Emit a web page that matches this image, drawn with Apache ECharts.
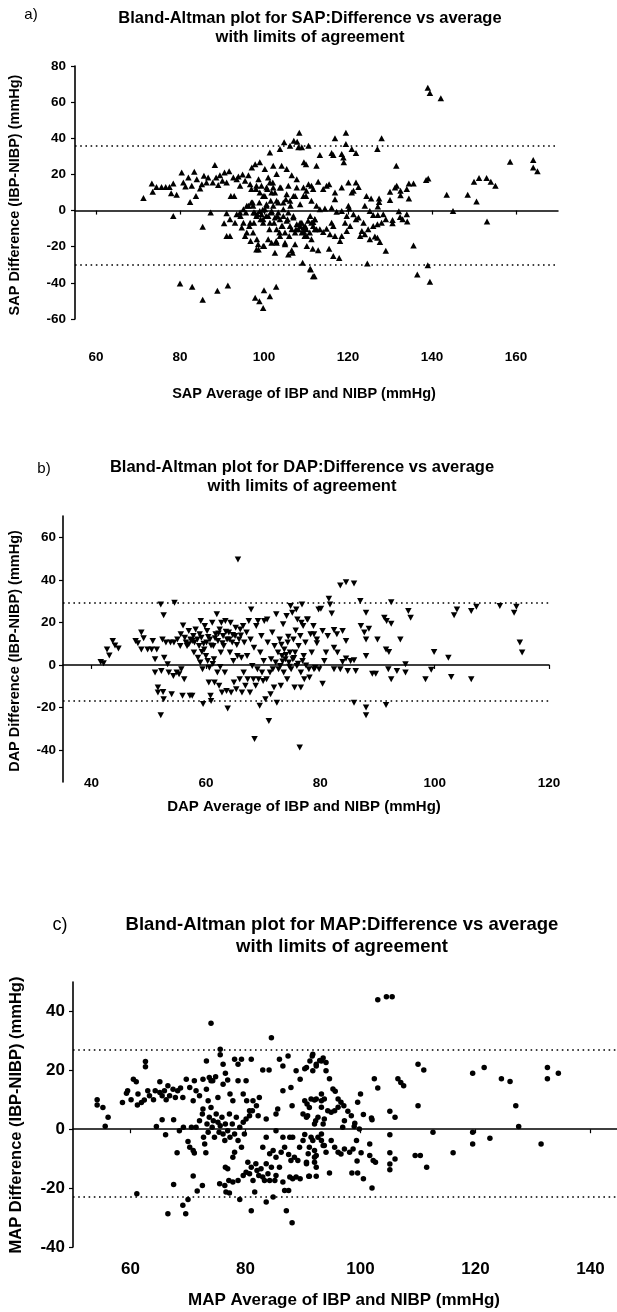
<!DOCTYPE html>
<html>
<head>
<meta charset="utf-8">
<script src="https://cdn.jsdelivr.net/npm/echarts@6/dist/echarts.min.js"></script>
<style>
  html, body { margin: 0; padding: 0; background: #ffffff; }
  #chart { width: 617px; height: 1312px; }
</style>
</head>
<body>
<div id="chart"></div>
<script>
// Bland-Altman panels: [average, difference] pairs in mmHg
const sapPoints = [
  [71.3,6.9],[73.3,15.0],[73.5,10.4],[74.4,13.1],[75.6,13.1],[76.6,13.1],[77.5,13.1],[78.4,15.0],[77.9,9.6],[79.2,8.7],[78.4,-3.0],[80.4,21.1],[80.8,15.6],[81.3,13.3],[82.0,18.3],[82.4,4.8],[82.8,13.7],[83.4,21.5],[83.8,8.1],[84.0,17.4],[84.8,12.2],[85.2,14.6],[85.4,-8.9],[85.7,19.3],[86.3,15.6],[86.7,18.3],[87.3,-1.1],[87.8,15.6],[88.3,25.2],[88.6,18.3],[89.1,14.1],[89.5,19.6],[90.1,16.5],[90.6,21.1],[91.1,15.6],[91.7,21.7],[91.9,-14.1],[92.1,8.1],[92.7,18.3],[92.9,8.1],[93.5,17.4],[90.5,-7.0],[91.1,-1.5],[93.9,18.9],[94.3,13.7],[94.4,-3.0],[94.9,20.0],[95.1,-6.7],[95.5,16.5],[95.7,-1.1],[95.9,-12.2],[96.3,19.6],[96.3,2.6],[96.5,-8.5],[96.7,14.6],[96.8,-16.9],[97.1,23.9],[97.3,4.4],[97.5,-1.1],[97.6,-6.7],[97.9,25.7],[98.1,11.9],[98.3,-15.9],[98.4,-2.0],[98.7,17.4],[98.7,-21.5],[98.9,4.4],[99.0,26.7],[99.2,-4.8],[99.4,13.7],[99.7,0.4],[99.8,-6.7],[100.0,-19.6],[100.2,23.0],[100.2,8.1],[100.5,-3.0],[100.6,2.6],[100.8,11.9],[101.0,18.3],[101.3,-10.4],[101.4,32.2],[101.6,5.4],[101.8,-1.1],[102.1,15.6],[102.2,24.8],[102.4,-6.7],[102.6,10.0],[102.9,-16.9],[103.0,20.2],[103.2,-3.0],[103.4,4.4],[103.7,-12.2],[103.8,34.1],[104.0,12.8],[104.2,24.8],[104.4,-8.5],[104.6,0.7],[104.8,37.8],[105.0,-17.8],[105.2,6.3],[105.4,23.0],[105.6,-4.8],[105.8,13.7],[106.0,-14.1],[106.2,35.9],[106.3,2.6],[106.6,19.6],[106.8,-23.3],[107.0,-3.0],[107.1,38.7],[107.4,8.1],[107.6,-10.4],[107.8,17.4],[107.9,38.1],[108.2,35.0],[108.4,43.0],[108.6,-6.7],[109.0,35.0],[109.2,-28.9],[109.5,26.7],[109.8,-14.1],[110.0,8.1],[110.2,-19.6],[110.6,35.9],[111.0,-3.0],[111.1,-32.6],[111.3,13.7],[111.7,-36.3],[112.1,-10.4],
  [80.0,-40.4],[82.9,-42.2],[85.4,-49.3],[88.9,-44.3],[91.4,-41.5],[97.9,-48.3],[98.9,-50.2],[99.8,-53.9],[100.0,-44.1],[101.4,-47.4],[102.9,-42.2],
  [139.0,68.0],[139.5,65.0],[142.1,62.2],[116.9,40.0],[119.5,43.0],[128.0,40.0],[127.0,34.1],[119.5,36.9],[120.9,34.1],[121.9,31.9],[118.5,31.3],[118.9,29.4],[119.0,26.7],[113.3,30.7],[116.1,31.9],[116.5,30.7],[110.0,25.7],[112.5,24.8],[131.5,24.8],[158.6,27.0],[164.1,28.0],[164.1,23.9],[165.1,21.7],[138.6,16.9],[139.1,17.8],[150.0,15.9],[151.2,18.0],[153.0,18.0],[154.0,15.9],[155.1,13.7],[143.5,8.7],[148.5,8.7],[150.6,5.0],[145.0,-0.2],[153.1,-6.1],[135.6,-19.3],[136.5,-35.4],[139.0,-30.2],[139.5,-39.4],[129.0,-22.2],[124.6,-29.3],[117.9,-26.3],[116.5,-25.2],[115.5,-21.1],[112.9,-22.0],[111.6,-21.1],[111.0,-32.2],[112.0,-36.3],[130.0,10.4],[130.0,5.9],[131.2,12.8],[131.6,13.7],[132.5,10.9],[132.5,8.5],[134.0,11.9],[134.5,15.0],[135.6,15.0],[134.5,6.7],[132.1,-0.4],[132.4,-3.5],[133.0,-4.8],[134.1,-6.1],[134.0,-2.0],[130.6,-5.2],[130.6,-7.0],[129.0,-4.8],[128.0,-6.7],[127.1,2.2],[127.4,4.8],[127.4,6.7],[125.5,6.7],[124.4,8.1],[124.0,2.6],[125.2,-0.2],[126.0,-2.4],[127.1,-2.4],[128.4,-2.0],[127.0,-7.6],[126.0,-8.5],[124.8,-10.4],[127.0,-15.0],[127.6,-17.4],[126.4,-14.4],[125.2,-15.9],[124.0,-13.1],[122.9,-14.1],[121.9,-4.8],[121.3,-2.0],[120.3,1.1],[120.1,2.6],[120.1,15.6],[121.9,15.6],[122.5,13.0],[121.3,10.9],[120.9,10.0],[118.5,12.8],[116.9,10.0],[116.9,6.3],[115.5,14.6],[114.9,13.7],[114.1,11.9],[112.9,15.9],[111.7,11.9],[110.6,14.6],[109.4,12.8],[113.3,0.7],[114.5,1.1],[116.1,1.5],[117.3,-0.7],[118.5,-0.2],[119.7,-3.0],[120.5,-8.5],[119.7,-11.3],[118.5,-14.1],[118.1,-16.9],[116.9,-14.1],[115.7,-13.1],[114.9,-10.0],[114.1,-11.9],[113.3,-10.4],[111.7,-6.3],[111.3,-6.7],[112.1,-4.8],[109.8,-8.5],[109.4,-11.3],[109.0,-6.7],[110.2,-14.1],[116.5,-8.5],[116.1,-6.7],[119.3,-6.7],[122.5,-3.9],[123.3,-11.3],[123.7,-6.7],
  [94.3,-1.1],[95.1,0.7],[95.9,2.6],[97.0,4.4],[97.4,2.6],[97.8,-1.1],[98.2,-3.0],[99.0,-0.2],[99.4,-2.0],[99.8,-4.8],[100.2,0.7],[100.6,3.5],[101.0,-3.0],[101.4,-6.7],[101.8,-0.2],[102.2,2.6],[102.6,-3.9],[103.0,-10.4],[103.4,-1.1],[103.8,-4.8],[104.2,-8.5],[104.6,-3.0],[105.0,-12.2],[105.4,-5.7],[105.8,-1.1],[106.2,-8.5],[106.6,-10.4],[107.0,-3.9],[107.4,-12.2],[107.8,-7.6],[108.2,-10.4],[108.6,-8.5],[109.0,-12.2],[109.4,-9.4],[109.7,-14.1],[110.1,-10.4],[110.5,-5.7],[110.9,-12.2],[111.3,-15.9],[111.7,-8.5],[112.1,-4.8],[112.5,-10.4],[97.0,11.9],[98.2,13.7],[99.0,10.0],[99.8,8.1],[100.6,12.8],[101.4,15.6],[101.8,10.0],[102.2,12.8],[103.0,5.4],[103.8,12.8],[104.6,4.4],[105.4,9.1],[106.2,5.4],[107.0,8.1],[107.8,12.8],[108.6,3.5],[109.4,8.1],[110.1,10.9],[111.3,5.4],[112.5,2.6],[91.9,-4.8],[93.1,-6.7],[93.5,-2.0],[94.7,-9.4],[95.5,-14.1],[96.7,-6.7],[97.4,-12.2],[98.6,-18.7],[99.8,-19.6],[101.0,-15.9],[101.8,-17.8],[102.6,-23.3],[103.8,-14.1],[105.0,-18.7],[105.8,-24.3],[106.6,-22.0],[107.4,-18.7],[98.2,-21.5],[103.0,-17.8],[91.1,-14.1]
];

const dapPoints = [
  [41.6,1.4],[42.1,0.8],[42.7,7.3],[43.1,4.5],[43.7,11.3],[44.1,9.2],[44.7,7.7],[47.7,11.3],[48.1,10.2],[48.7,15.2],[49.1,12.5],[48.7,7.3],[49.8,7.3],[50.5,7.3],[51.4,7.3],[50.7,11.3],[51.1,2.7],[51.1,-3.6],[51.6,-10.6],[51.6,-13.0],[52.1,-23.6],[52.2,-2.8],[52.5,-12.7],[52.6,-16.1],[52.1,28.4],[52.6,23.4],[52.4,12.0],[52.7,3.4],[53.0,10.5],[53.3,0.3],[53.5,-3.6],[53.8,10.5],[54.0,-13.8],[54.3,-5.2],[54.4,10.5],[54.5,29.2],[54.9,-3.6],[55.0,12.0],[55.3,-4.4],[55.5,8.9],[55.6,14.4],[55.7,-2.0],[55.9,-14.5],[56.2,-6.7],[56.0,18.6],[56.5,10.5],[56.7,8.9],[57.0,15.9],[57.2,-14.5],[57.3,12.0],[57.6,-14.5],[57.8,13.6],[57.9,5.8],[58.0,10.5],[58.2,16.7],[58.5,12.0],[58.6,3.4],[58.8,8.9],[59.0,1.1],[59.1,20.6],[59.2,12.8],[59.4,-2.0],[59.5,-18.4],[59.7,7.3],[59.8,18.3],[60.0,4.2],[60.1,10.5],[60.2,15.9],[60.3,1.9],[60.5,-8.3],[60.7,12.0],[60.8,-14.5],[60.9,-16.9],[61.1,19.8],[61.3,8.9],[61.4,2.7],[61.5,-8.3],[61.7,14.4],[61.9,23.8],[62.0,-3.6],[62.1,11.3],[62.3,-9.8],[62.4,16.7],[62.6,5.8],[62.7,19.8],[62.8,-13.0],[63.0,13.6],[63.1,8.9],[63.3,-3.6],[63.4,20.6],[63.6,-12.2],[63.7,12.0],[63.8,-20.5],[64.0,15.2],[64.2,5.8],[64.3,19.8],[64.4,-13.0],[64.6,10.5],[64.8,1.9],[64.9,-8.3],[65.1,13.6],[65.2,17.5],[65.3,-11.4],[65.5,4.2],[65.6,49.5],[65.8,12.0],[65.9,-6.7],[66.0,16.7],[66.2,3.4],[66.3,-13.0],[66.5,18.3],[66.6,-3.6],[66.7,10.5],[66.9,-9.8],[67.1,15.2],[67.2,4.2],[67.3,-6.7],[67.5,20.6],[67.7,-13.0],[67.8,12.0],[67.9,26.1],[68.1,-0.5],[68.3,-6.7],[68.4,8.1],[68.5,-34.8],[68.7,-9.8],[68.8,18.3],[69.0,-2.0],[69.1,20.6],[69.2,-6.7],[69.4,-19.2],[69.5,5.8],[69.7,13.6],[69.8,-3.6],[70.0,-7.5],[70.1,1.9],[70.2,20.6],[70.4,-16.1],[70.6,-6.7],[70.7,21.4],[70.8,10.5],[71.0,-26.3],[71.2,-3.6],[71.3,-13.8],[71.4,2.7],[71.6,15.2],[71.7,-2.0],[71.9,-10.6],[72.0,8.9],[72.2,1.1],[72.3,23.8],[72.4,-17.7],[72.6,5.8],[72.7,-2.0],[72.9,12.0],[73.0,-0.5],[73.1,-9.8],[73.3,4.2],[73.5,19.1],[73.6,-3.6],[73.7,7.3],[73.9,2.7],[74.1,23.0],[74.2,-6.7],[74.3,10.5],[74.5,1.1],[74.7,5.8],[74.8,27.7],[74.9,-2.0],[75.1,24.5],[75.2,2.7],[75.3,12.0],[75.5,-10.6],[75.6,5.8],[75.8,26.1],[75.9,-0.5],[76.0,21.4],[76.2,8.9],[76.4,-38.8],[76.5,13.6],[76.6,-3.6],[76.8,28.4],[77.0,18.3],[77.1,4.2],[77.2,-6.7],[77.4,10.5],[77.7,21.4],[78.0,-2.0],[78.3,14.4],[78.5,5.8],[78.8,18.3],[79.1,-1.3],[79.4,12.0],[79.7,26.1],
  [83.5,37.3],[84.5,38.9],[85.9,38.3],[87.0,30.0],[88.0,24.5],[87.1,18.3],[87.7,15.2],[88.0,12.0],[88.5,17.0],[90.0,12.0],[88.0,4.2],[91.2,22.2],[91.6,20.6],[92.4,19.4],[92.4,29.5],[94.0,12.0],[91.5,7.3],[92.0,6.1],[95.4,25.3],[95.8,22.2],[94.9,0.3],[94.9,-3.6],[99.9,6.1],[102.4,3.4],[103.4,23.4],[103.9,26.1],[106.4,25.3],[107.3,27.3],[111.4,27.7],[113.9,24.5],[114.3,27.3],[114.9,10.5],[115.3,5.8],[99.4,-2.3],[98.4,-6.7],[102.9,-5.6],[106.4,-6.7],[85.9,-17.7],[88.0,-20.0],[88.0,-23.6],[91.5,-18.8],[84.8,-2.8],[86.2,-2.8],[89.1,-4.1],[89.7,-4.1],[91.9,-2.0],[92.4,-6.7],[93.4,-2.8],[85.9,2.2],[84.5,3.0],[83.9,1.4],[83.0,5.8],[82.4,8.1],[84.5,11.3],[83.9,15.9],[82.9,14.4],[82.4,16.4],[82.0,24.2],[81.7,28.4],[81.5,31.1],[81.3,13.6],[81.0,5.8],[80.7,1.9],[80.4,-8.8],[79.8,-2.0],[78.1,-5.9],[76.6,-10.6],[78.9,-2.0],[77.8,21.4],[78.9,14.4],[79.4,10.2],[80.1,26.4],[80.4,15.9],[82.4,-2.0],[83.5,-2.0],[85.3,1.9],
  [56.3,12.8],[57.0,9.7],[57.6,11.3],[58.9,14.4],[59.6,10.0],[60.4,13.1],[60.9,9.2],[61.6,12.5],[62.2,14.8],[62.9,10.2],[63.5,15.6],[64.1,12.0],[64.7,14.1],[65.4,9.4],[66.1,13.8],[59.3,6.1],[60.6,-1.3],[61.2,0.5],[62.5,-1.0],[73.4,1.6],[74.0,4.7],[74.6,-0.8],[75.4,3.3],[76.1,0.6],[76.9,1.9],[77.5,-0.3],[73.2,9.5],[74.4,13.3],[75.7,16.2],[76.7,19.8]
];

const mapPoints = [
  [54.2,10.0],[54.2,8.2],[55.2,7.4],[56.1,4.1],[55.6,1.0],[58.6,9.1],[59.3,12.2],[59.5,13.1],[60.1,10.0],[60.5,17.0],[61.0,16.1],[61.3,12.0],[61.2,8.2],[61.9,9.1],[62.4,9.9],[62.6,23.0],[62.6,21.2],[63.0,13.1],[63.3,11.4],[64.0,10.0],[64.3,13.1],[65.1,16.1],[65.1,12.5],[65.5,11.4],[65.9,13.1],[66.2,10.0],[66.5,14.8],[66.8,11.4],[67.4,13.6],[67.8,10.8],[68.2,13.1],[68.7,14.0],[69.1,10.8],[69.7,17.0],[70.3,14.2],[70.9,9.7],[71.1,16.5],[71.4,13.1],[72.0,11.4],[72.6,17.0],[73.2,23.2],[73.2,13.6],[73.5,9.7],[73.7,17.6],[74.0,16.5],[74.3,16.5],[74.8,17.8],[75.2,10.8],[75.6,27.2],[75.6,25.3],[76.1,22.1],[76.1,15.3],[76.5,19.0],[76.9,16.7],[77.3,12.0],[77.8,9.7],[78.1,23.8],[78.7,22.1],[78.7,16.5],[79.3,23.8],[79.6,12.0],[80.1,16.5],[80.2,9.7],[80.7,6.3],[81.0,23.8],[81.3,9.7],[81.9,8.0],[82.4,10.8],[82.2,4.6],[83.0,20.1],[84.1,20.1],[83.6,3.5],[84.5,31.1],[74.0,36.0],[85.3,5.2],[85.6,6.9],[85.9,23.8],[86.5,21.5],[86.5,13.1],[87.4,24.9],[87.9,14.2],[88.1,8.0],[88.8,19.9],[89.5,17.0],[90.6,21.0],[91.2,23.2],[91.6,24.9],[92.3,21.5],[93.2,23.2],[90.3,9.7],[91.1,7.4],[92.0,9.9],[93.2,9.7],[90.6,4.1],[92.2,2.9],[93.5,1.8],[85.3,-0.5],
  [64.5,0.9],[65.5,3.2],[66.1,-1.9],[67.5,3.2],[68.1,-8.0],[70.0,-4.2],[70.3,-6.1],[70.9,-7.2],[71.1,-8.1],[69.2,0.7],[70.6,0.7],[68.5,-0.5],[71.4,0.7],[72.0,2.9],[72.5,5.2],[72.6,6.9],[72.7,-2.7],[72.9,-5.0],[73.1,-8.0],[73.3,1.8],[73.5,-1.0],[73.7,4.1],[74.0,7.4],[74.2,0.7],[74.4,2.9],[74.6,-2.7],[74.9,5.2],[75.2,2.4],[75.4,-1.0],[75.6,1.2],[75.9,4.1],[76.1,-1.6],[76.4,-3.8],[76.5,1.8],[76.9,-0.5],[77.2,5.2],[77.3,-2.7],[77.7,1.8],[78.1,-1.6],[78.4,4.1],[78.7,-3.8],[79.0,0.7],[79.3,-6.1],[79.6,2.4],[79.8,-1.6],[80.1,3.5],[80.7,4.6],[81.2,6.3],[77.8,-9.5],[78.1,-7.8],[76.9,-13.4],[76.5,-12.9],[75.5,-18.5],[76.4,-19.1],[76.6,-21.3],[77.1,-17.4],[77.8,-17.9],[78.7,-17.4],[79.0,-23.9],[79.6,-15.7],[80.1,-14.6],[80.4,-11.2],[80.7,-15.1],[81.0,-12.9],[81.3,-17.4],[81.6,-21.3],[81.8,-11.7],[82.0,-14.0],[82.3,-15.7],[82.7,-13.4],[83.0,-16.2],[83.3,-17.4],[83.6,-11.7],[83.9,-15.1],[84.2,-17.4],[84.5,-12.9],[84.8,-23.0],[85.1,-17.4],[83.6,-24.7],[81.0,-27.7],[87.1,-27.7],[88.1,-31.8],[85.3,-15.7],[85.9,-12.9],[86.5,-17.9],[86.8,-20.8],[87.5,-20.8],[87.7,-16.2],[88.2,-16.8],[88.8,-16.2],[89.5,-16.8],[83.0,-6.1],[83.6,-2.7],[84.2,-8.3],[84.8,-7.2],[85.3,-9.5],[86.2,-7.8],[86.5,-2.7],[86.8,-6.1],[87.5,-8.6],[87.9,-10.6],[88.5,-9.5],[89.1,-10.6],[89.4,-6.1],[90.0,-3.8],[90.6,-11.7],[90.9,-8.3],[91.1,-6.1],[91.7,-3.8],[92.0,-9.5],[92.3,-12.9],[92.6,-2.7],[93.2,-1.6],[93.5,-5.5],[87.7,-2.7],[88.2,-2.7],[92.3,-16.0],[91.0,-16.0],[77.2,-21.7],[71.6,-21.0],[72.5,-19.1],[70.9,-15.9],[67.5,-18.8],[66.5,-28.7],[69.1,-25.8],[70.0,-23.9],[69.6,-28.7],[61.1,-21.9],
  [103.0,44.0],[104.5,45.0],[105.5,45.0],[91.7,25.5],[90.3,20.5],[91.7,19.9],[92.3,22.1],[92.9,23.3],[93.5,24.2],[94.0,22.7],[94.0,19.9],[94.6,17.1],[95.2,13.7],[95.6,12.9],[96.1,10.3],[96.6,9.2],[97.1,8.0],[100.0,12.0],[99.5,9.2],[97.8,6.1],[98.4,4.6],[99.0,2.0],[100.5,5.0],[101.9,3.8],[102.0,3.2],[102.4,17.1],[103.0,14.0],[105.1,6.1],[106.0,4.1],[106.5,17.1],[107.0,15.9],[107.5,14.8],[110.0,22.1],[111.0,20.1],[110.0,8.0],[112.6,-1.0],[109.5,-8.9],[110.4,-8.9],[111.5,-12.9],[116.1,-8.0],[119.5,19.0],[121.5,21.0],[119.5,-1.0],[119.5,-5.0],[122.5,-3.1],[124.5,17.1],[126.0,16.2],[127.0,8.0],[127.5,0.9],[131.4,-5.0],[132.5,21.0],[132.5,17.1],[134.4,19.0],[105.1,-1.9],[105.1,-8.0],[105.1,-11.8],[105.1,-13.8],[106.0,-10.1],[101.6,-5.0],[100.1,-8.0],[101.6,-8.9],[102.2,-10.6],[102.6,-11.2],[102.0,-20.0],[100.5,-16.8],[99.5,-14.9],[98.5,-14.9],[99.4,-10.8],[98.7,-6.7],[98.1,-7.8],[97.2,-6.7],[96.6,-8.4],[96.1,-7.8],[95.5,-6.1],[94.9,-3.8],[94.6,-14.9],[94.0,-7.8],[93.7,-5.5],[93.2,-3.8],[92.3,-8.9],[92.0,-11.2],[92.0,-7.2],[91.1,-16.0],[90.6,-11.2],[90.3,-1.8],[91.4,-2.7],[92.0,1.8],[92.6,4.1],[93.2,7.5],[93.7,3.5],[94.3,6.3],[94.9,5.8],[95.5,6.3],[96.1,7.5],[96.9,0.7],[97.2,2.9],[92.3,10.3],[91.4,10.3],[90.7,8.6],[90.8,4.6],[90.0,5.2],[93.2,12.0],[93.7,10.3],[99.3,-3.8],[99.8,0.1],[98.9,0.9]
];

// Limits of agreement (upper, lower) in mmHg
const sapLimits = [36.0, -30.2];
const dapLimits = [29.2, -16.9];
const mapLimits = [27.0, -23.0];

// Axis ranges and tick labels
const sapXRange = [55, 170];   const sapXTicks = [60, 80, 100, 120, 140, 160];
const sapYRange = [-60, 80];   const sapYTicks = [-60, -40, -20, 0, 20, 40, 60, 80];
const dapXRange = [35, 120];   const dapXTicks = [40, 60, 80, 100, 120];
const dapYRange = [-55, 70];   const dapYTicks = [-40, -20, 0, 20, 40, 60];
const mapXRange = [50, 144.6]; const mapXTicks = [60, 80, 100, 120, 140];
const mapYRange = [-40, 50];   const mapYTicks = [-40, -20, 0, 20, 40];

const FONT = '"Liberation Sans", Arial, Helvetica, sans-serif';

const panels = [
  { grid: { left: 75, top: 66, width: 483, height: 253 },
    xr: sapXRange, xt: sapXTicks, yr: sapYRange, yt: sapYTicks,
    pts: sapPoints, lim: sapLimits, sym: 'triangle', rot: 0, size: [6.5, 6],
    fs: 13.5, xMargin: 31, yMargin: 9 },
  { grid: { left: 63, top: 516, width: 486, height: 266 },
    xr: dapXRange, xt: dapXTicks, yr: dapYRange, yt: dapYTicks,
    pts: dapPoints, lim: dapLimits, sym: 'triangle', rot: 180, size: [6.5, 6],
    fs: 13.5, xMargin: -6, yMargin: 7 },
  { grid: { left: 73, top: 982, width: 544, height: 265 },
    xr: mapXRange, xt: mapXTicks, yr: mapYRange, yt: mapYTicks,
    pts: mapPoints, lim: mapLimits, sym: 'circle', rot: 0, size: 5.5,
    fs: 17, xMargin: 14, yMargin: 8 }
];

const grids = [], xAxes = [], yAxes = [], series = [];
panels.forEach((p, i) => {
  grids.push(Object.assign({ containLabel: false }, p.grid));
  // bottom axis carrying the tick labels only
  xAxes.push({
    gridIndex: i, type: 'value', position: 'bottom', min: p.xr[0], max: p.xr[1],
    axisLine: { show: false, onZero: false }, axisTick: { show: false },
    splitLine: { show: false },
    axisLabel: { customValues: p.xt, margin: p.xMargin, fontSize: p.fs, fontWeight: 'bold',
                 color: '#000', fontFamily: FONT }
  });
  // zero line with tick marks
  xAxes.push({
    gridIndex: i, type: 'value', position: 'bottom', min: p.xr[0], max: p.xr[1],
    axisLine: { show: true, onZero: true, lineStyle: { color: '#000', width: 1.5 } },
    axisTick: { show: true, customValues: p.xt, length: 4, lineStyle: { color: '#000', width: 1.2 } },
    axisLabel: { show: false }, splitLine: { show: false }
  });
  yAxes.push({
    gridIndex: i, type: 'value', min: p.yr[0], max: p.yr[1],
    axisLine: { show: true, onZero: false, lineStyle: { color: '#000', width: 1.6 } },
    axisTick: { show: true, customValues: p.yt, length: 4, lineStyle: { color: '#000', width: 1.2 } },
    axisLabel: { customValues: p.yt, margin: p.yMargin, fontSize: p.fs, fontWeight: 'bold',
                 color: '#000', fontFamily: FONT },
    splitLine: { show: false }
  });
  series.push({
    type: 'scatter', xAxisIndex: i * 2, yAxisIndex: i, data: p.pts,
    symbol: p.sym, symbolRotate: p.rot, symbolSize: p.size,
    itemStyle: { color: '#000', opacity: 1 }, silent: true,
    markLine: {
      silent: true, symbol: ['none', 'none'], label: { show: false },
      lineStyle: { type: [1.6, 3.6], color: '#000', width: 1.6 },
      data: [{ yAxis: p.lim[0] }, { yAxis: p.lim[1] }]
    }
  });
});

function txt(x, y, text, size, bold, rot) {
  return {
    type: 'text', x: x, y: y, rotation: rot || 0, silent: true,
    style: { text: text, fill: '#000', font: (bold ? 'bold ' : '') + size + 'px ' + FONT,
             textAlign: 'center', textVerticalAlign: 'middle' }
  };
}

const texts = [
  txt(31, 15, 'a)', 15, false),
  txt(310, 18, 'Bland-Altman plot for SAP:Difference vs average', 16.5, true),
  txt(310, 37, 'with limits of agreement', 16.5, true),
  txt(15, 195, 'SAP Difference (IBP-NIBP) (mmHg)', 14.5, true, Math.PI / 2),
  txt(304, 394, 'SAP Average of IBP and NIBP (mmHg)', 14.5, true),

  txt(44, 469, 'b)', 15, false),
  txt(302, 467, 'Bland-Altman plot for DAP:Difference vs average', 16.5, true),
  txt(302, 486, 'with limits of agreement', 16.5, true),
  txt(15, 651, 'DAP Difference (IBP-NIBP) (mmHg)', 14.5, true, Math.PI / 2),
  txt(304, 807, 'DAP Average of IBP and NIBP (mmHg)', 15, true),

  txt(60, 925, 'c)', 18, false),
  txt(342, 925, 'Bland-Altman plot for MAP:Difference vs average', 18.5, true),
  txt(342, 947, 'with limits of agreement', 18.5, true),
  txt(16, 1115, 'MAP Difference (IBP-NIBP) (mmHg)', 16.5, true, Math.PI / 2),
  txt(344, 1300, 'MAP Average of IBP and NIBP (mmHg)', 17, true)
];

const chart = echarts.init(document.getElementById('chart'), null, { renderer: 'canvas' });
chart.setOption({
  backgroundColor: '#ffffff',
  animation: false,
  grid: grids,
  xAxis: xAxes,
  yAxis: yAxes,
  series: series,
  graphic: { elements: texts }
});
</script>
</body>
</html>
